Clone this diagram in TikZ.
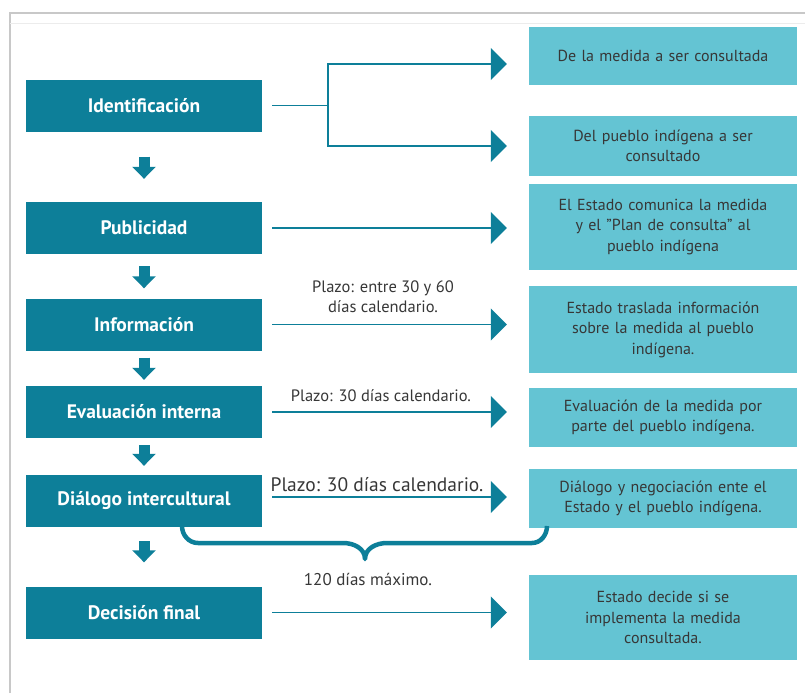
\documentclass[tikz,border=0pt]{standalone}
\usepackage{fontspec}
\setmainfont{PT Sans}
\usetikzlibrary{arrows.meta}
\definecolor{dk}{RGB}{13,127,153}
\definecolor{lt}{RGB}{100,196,211}
\definecolor{tx}{RGB}{55,55,55}
\definecolor{framegray}{RGB}{200,200,200}
\definecolor{faintgray}{RGB}{236,236,236}
\begin{document}
\begin{tikzpicture}[x=1pt,y=-1pt,
  stage/.style={fill=dk,text=white,font=\fontsize{19.5}{22}\selectfont\bfseries,minimum width=236pt,minimum height=52pt,inner sep=0pt},
  info/.style={fill=lt,text=tx,font=\fontsize{16}{20.5}\selectfont,minimum width=268pt,text width=255pt,align=center,inner sep=0pt},
  plainline/.style={draw=dk,line width=1.8pt},
  conn/.style={draw=dk,line width=1.8pt,-{Triangle[length=16pt,width=32pt]}},
  downarr/.style={draw=dk,line width=11pt,-{Triangle[length=12pt,width=23pt]}},
  note/.style={text=tx,font=\fontsize{16.5}{20}\selectfont,align=center,inner sep=0pt}]
\useasboundingbox (0,0) rectangle (805,693);
% frame
\draw[framegray,line width=1.5pt] (10,693) -- (10,13) -- (805,13);
\draw[faintgray,line width=1pt] (10,24) -- (805,24);
% left stages
\node[stage] (L1) at (144,105.5) {Identificación};
\node[stage] (L2) at (144,228) {Publicidad};
\node[stage] (L3) at (144,324.5) {Información};
\node[stage] (L4) at (144,412) {Evaluación interna};
\node[stage] (L5) at (144,501) {Diálogo intercultural};
\node[stage] (L6) at (144,612.5) {Decisión final};
% right boxes
\node[info,minimum height=58pt] (R1) at (663,56) {De la medida a ser consultada};
\node[info,minimum height=60pt] (R2) at (663,146) {Del pueblo indígena a ser\\consultado};
\node[info,minimum height=86pt] (R3) at (663,227) {El Estado comunica la medida\\y el "Plan de consulta" al\\pueblo indígena};
\node[info,minimum height=87pt] (R4) at (663,329.5) {Estado traslada información\\sobre la medida al pueblo\\indígena.};
\node[info,minimum height=59pt] (R5) at (663,417.5) {Evaluación de la medida por\\parte del pueblo indígena.};
\node[info,minimum height=59pt] (R6) at (663,498.5) {Diálogo y negociación ente el\\Estado y el pueblo indígena.};
\node[info,minimum height=85pt] (R7) at (663,617.5) {Estado decide si se\\implementa la medida\\consultada.};
% down arrows
\draw[downarr,shorten <=25pt,shorten >=23pt] (L1.south) -- (L2.north);
\draw[downarr,shorten <=12pt,shorten >=10pt] (L2.south) -- (L3.north);
\draw[downarr,shorten <=7pt,shorten >=6pt] (L3.south) -- (L4.north);
\draw[downarr,shorten <=7pt,shorten >=9pt] (L4.south) -- (L5.north);
\draw[downarr,shorten <=14pt,shorten >=24pt] (L5.south) -- (L6.north);
% branch from Identificación
\coordinate (br) at ([xshift=66pt]L1.east);
\coordinate (t1) at ([yshift=-8pt]R1.west);
\draw[plainline,shorten <=10pt] (L1.east) -- (br);
\draw[conn,shorten >=22pt] (br) |- (t1);
\draw[conn,shorten >=22pt] (br) |- (R2.west);
% horizontal connectors
\draw[conn,shorten <=10pt,shorten >=22pt] (L2.east) -- (L2.east -| R3.west);
\draw[conn,shorten <=10pt,shorten >=22pt] (L3.east) -- (L3.east -| R4.west);
\draw[conn,shorten <=10pt,shorten >=22pt] (L4.east) -- (L4.east -| R5.west);
\coordinate (a5) at ([yshift=4pt]L5.east);
\draw[conn,shorten <=10pt,shorten >=22pt] (a5) -- (a5 -| R6.west);
\draw[conn,shorten <=10pt,shorten >=22pt] (L6.east) -- (L6.east -| R7.west);
% labels
\node[note] (p1) at (383,297) {Plazo: entre 30 y 60\\días calendario.};
\node[note] (p2) at (381,396) {Plazo: 30 días calendario.};
\node[note,font=\fontsize{19.5}{22}\selectfont] (p3) at (377,485) {Plazo: 30 días calendario.};
% brace
\draw[dk,line width=4.5pt,line join=round] (182,526) to[out=-90,in=180] (198,543) -- (343,543) to[out=0,in=90] (365,559)
  to[out=90,in=180] (387,543) -- (532,543) to[out=0,in=-90] (547,526);
\node[note,font=\fontsize{17}{20}\selectfont] (p4) at (368,579) {120 días máximo.};
\end{tikzpicture}
\end{document}
